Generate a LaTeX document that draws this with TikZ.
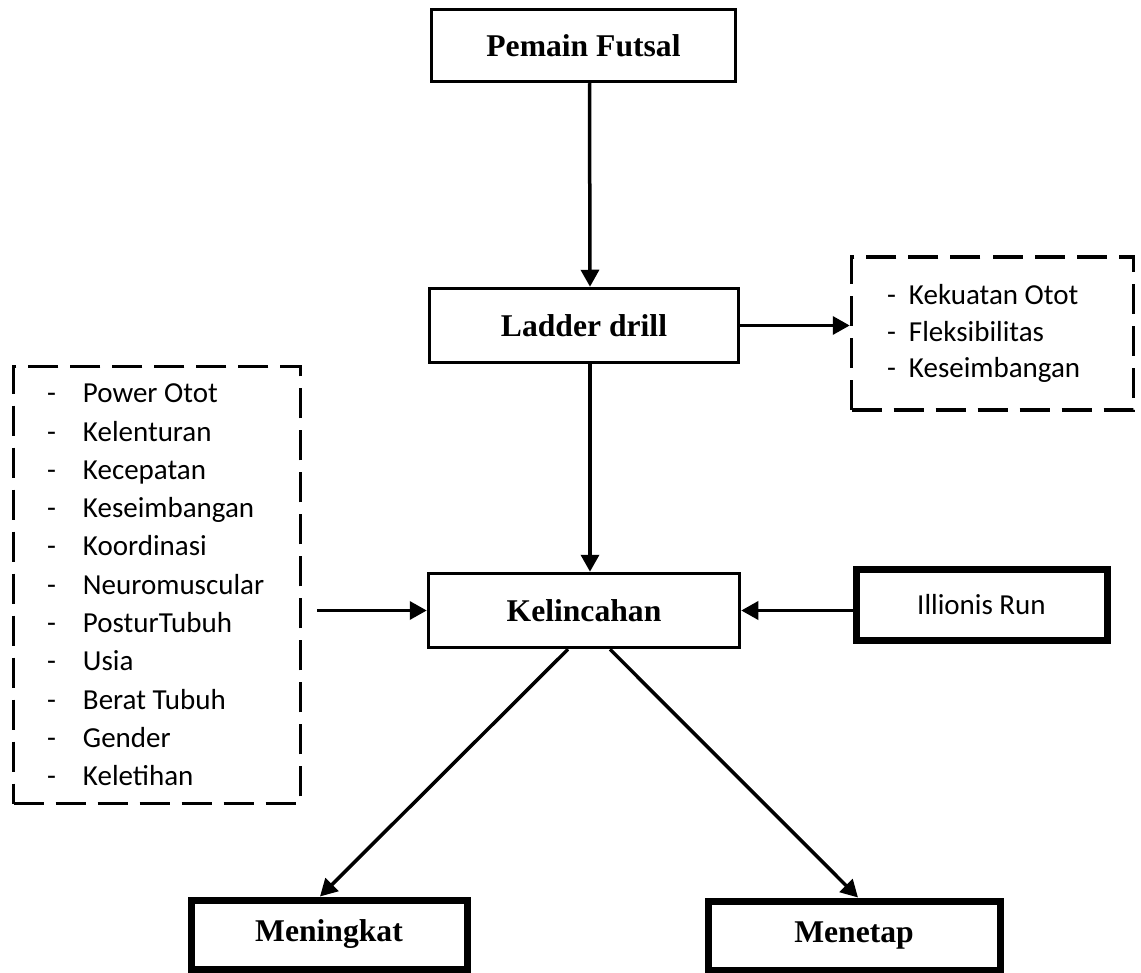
\documentclass[tikz,border=0pt]{standalone}
\usepackage{fontspec}
\setmainfont{Liberation Serif}
\newfontfamily\calibri{Carlito}
\usetikzlibrary{arrows.meta, calc}

\newcommand{\listdash}[2]{{\spaceskip=0pt\makebox[#1][l]{-}#2}}

\begin{document}
\begin{tikzpicture}[
    % Styles
    mainbox/.style={rectangle, draw=black, line width=0.07cm, fill=white, minimum width=6.2cm, minimum height=1.48cm, align=center, font=\fontsize{18}{22}\selectfont\bfseries},
    resultbox/.style={rectangle, draw=black, line width=0.14cm, fill=white, minimum height=1.38cm, align=center, font=\fontsize{18}{22}\selectfont\bfseries},
    testbox/.style={rectangle, draw=black, line width=0.14cm, fill=white, minimum width=5.02cm, minimum height=1.42cm, align=center, font=\fontsize{16.5}{21}\selectfont\calibri},
    listbox/.style={rectangle, draw=black, line width=0.07cm, dash pattern=on 0.6cm off 0.24cm, align=left, inner ysep=0pt},
    arrow/.style={-{Triangle[length=0.34cm, width=0.36cm]}, line width=0.07cm, black}
]

\useasboundingbox (0,0) rectangle (22.82,-19.46);

% ==================== MAIN FLOW ====================
\node[mainbox, minimum width=6.08cm, minimum height=1.44cm] (pemain) at (11.67, -0.91) {Pemain Futsal};
\node[mainbox, minimum width=6.18cm] (ladder) at (11.68, -6.51) {Ladder drill};
\node[mainbox, minimum width=6.22cm] (kel) at (11.68, -12.21) {Kelincahan};

% ==================== SIDE FACTORS ====================
\node[listbox, font=\fontsize{16.5}{21}\selectfont\calibri, text width=4.22cm, inner xsep=0.71cm, minimum height=3.06cm] (komponen) at (19.85, -6.67) {
    \listdash{0.44cm}{Kekuatan Otot}\\
    \listdash{0.44cm}{Fleksibilitas}\\
    \listdash{0.44cm}{Keseimbangan}
};

\node[listbox, font=\fontsize{16.5}{21.8}\selectfont\calibri, text width=4.4cm, inner xsep=0.67cm, minimum height=8.74cm] (faktor) at (3.14, -11.70) {
    \listdash{0.72cm}{Power Otot}\\
    \listdash{0.72cm}{Kelenturan}\\
    \listdash{0.72cm}{Kecepatan}\\
    \listdash{0.72cm}{Keseimbangan}\\
    \listdash{0.72cm}{Koordinasi}\\
    \listdash{0.72cm}{Neuromuscular}\\
    \listdash{0.72cm}{PosturTubuh}\\
    \listdash{0.72cm}{Usia}\\
    \listdash{0.72cm}{Berat Tubuh}\\
    \listdash{0.72cm}{Gender}\\
    \listdash{0.72cm}{Keletihan}
};

\node[testbox] (illionis) at (19.63, -12.09) {Illionis Run};

% ==================== RESULTS ====================
\node[resultbox, minimum width=5.52cm] (naik) at (6.58, -18.69) {Meningkat};
\node[resultbox, minimum width=5.84cm] (tetap) at (17.08, -18.71) {Menetap};

% Arrows
\draw[arrow] ([xshift=0.12cm]pemain.south) -- ([xshift=0.12cm]ladder.north);
\draw[arrow] (ladder.east) -- (ladder.east -| komponen.west);
\draw[arrow] ([xshift=0.12cm]ladder.south) -- ([xshift=0.12cm]kel.north);

\coordinate (faktor_out) at ([xshift=0.3cm]faktor.east |- kel.west);
\draw[arrow] (faktor_out) -- (kel.west);
\draw[arrow] (illionis.west |- kel.east) -- (kel.east);

\draw[arrow] ([xshift=-0.32cm]kel.south) -- ([xshift=-0.18cm]naik.north);
\draw[arrow] ([xshift=0.52cm]kel.south) -- ([xshift=0.08cm]tetap.north);

\end{tikzpicture}
\end{document}
